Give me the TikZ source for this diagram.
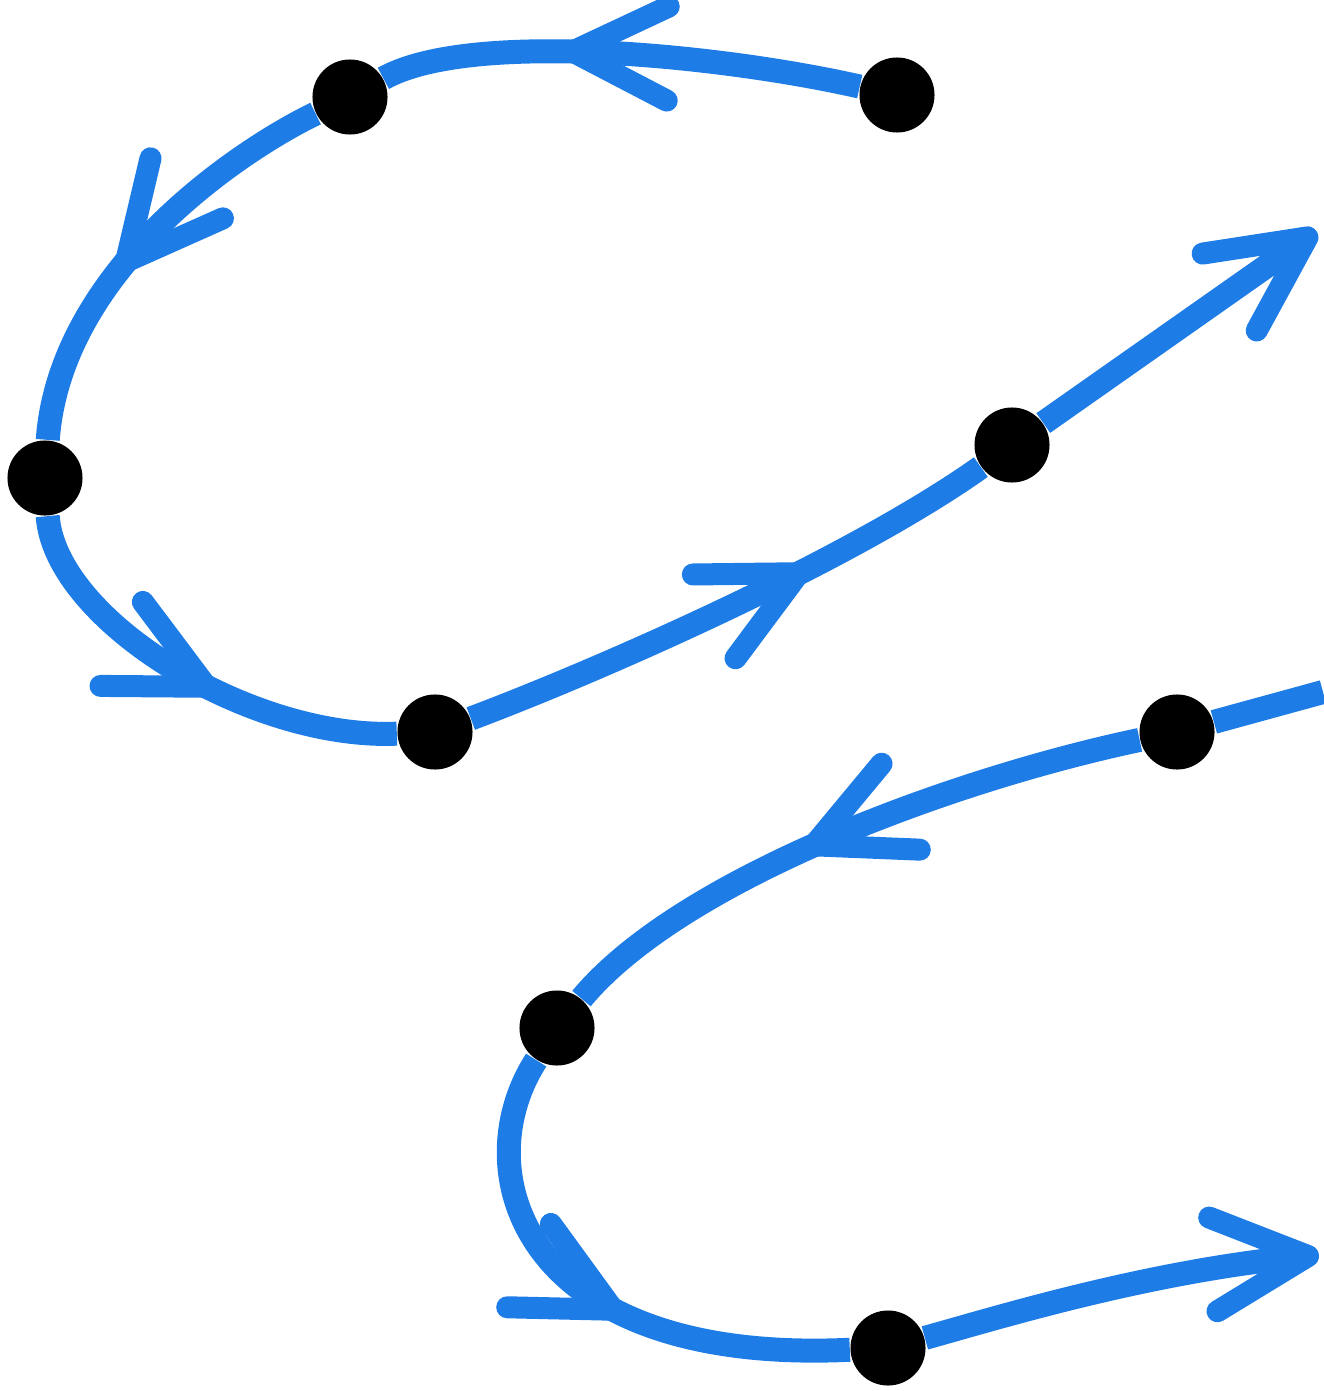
\documentclass[tikz,border=0pt]{standalone}
\usepackage{tikz}
\usetikzlibrary{decorations.markings}
\definecolor{penblue}{RGB}{30,124,230}

\begin{document}
\begin{tikzpicture}[x=0.01cm, y=-0.01cm,
	dot/.style={circle, fill=black, inner sep=0pt, minimum size=0.75cm},
	track/.style={penblue, line width=0.24cm},
	vee/.style={postaction={decorate}, decoration={markings, mark=at position #1 with {\draw[penblue, line width=0.22cm, line cap=round, line join=round] (-0.95cm,0.47cm) -- (0,0) -- (-0.95cm,-0.47cm);}}}]
	\useasboundingbox (0,0) rectangle (1323,1391);
	% upper loop
	\node[dot] (d1) at (897,95) {};
	\node[dot] (d2) at (350,97) {};
	\node[dot] (d3) at (45,478) {};
	\node[dot] (d4) at (435,732) {};
	\node[dot] (d5) at (1012,445) {};
	\coordinate (e1) at (1308,237);
	\draw[track, vee=0.6] (d1) .. controls (720,55) and (470,30) .. (d2);
	\draw[track, vee=0.55] (d2) .. controls (240,150) and (60,270) .. (d3);
	\draw[track, vee=0.55] (d3) .. controls (55,620) and (250,740) .. (d4);
	\draw[track, vee=0.63] (d4) .. controls (600,670) and (850,560) .. (d5);
	\draw[track, vee=1] (d5) -- (e1);
	% lower loop
	\coordinate (s2) at (1323,692);
	\node[dot] (d6) at (1177,732) {};
	\node[dot] (d7) at (557,1028) {};
	\node[dot] (d8) at (888,1348) {};
	\coordinate (e2) at (1308,1256);
	\draw[track] (s2) -- (d6);
	\draw[track, vee=0.55] (d6) .. controls (950,780) and (680,880) .. (d7);
	\draw[track, vee=0.55] (d7) .. controls (465,1170) and (520,1365) .. (d8);
	\draw[track, vee=1] (d8) .. controls (990,1320) and (1150,1270) .. (e2);
\end{tikzpicture}
\end{document}
